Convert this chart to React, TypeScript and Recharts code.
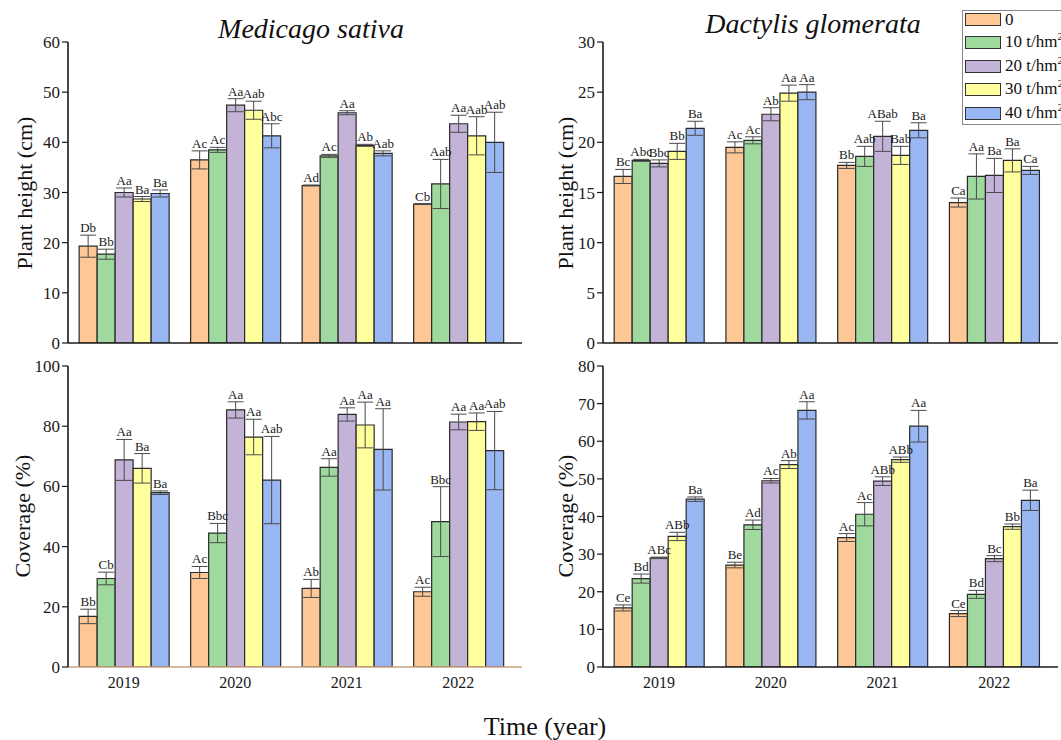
import React from 'react';
import { BarChart, Bar, XAxis, YAxis, ErrorBar, LabelList } from 'recharts';

const FONT = "'Times New Roman', 'Liberation Serif', serif";

const years = ['2019', '2020', '2021', '2022'];
const treatments = ['0', '10 t/hm', '20 t/hm', '30 t/hm', '40 t/hm'];
const colors = ['#FDC895', '#9FD99E', '#C2B3D7', '#FFFF9E', '#99B7F2'];

// Medicago sativa – plant height (cm)
const msHeightVals = [
  [19.3, 17.7, 30.0, 28.7, 29.8],
  [36.5, 38.5, 47.4, 46.4, 41.3],
  [31.4, 37.3, 45.9, 39.4, 37.8],
  [27.7, 31.7, 43.7, 41.3, 40.0],
];
const msHeightErrs = [
  [2.2, 1.0, 0.9, 0.5, 0.7],
  [1.8, 0.5, 1.3, 1.8, 2.4],
  [0.1, 0.3, 0.4, 0.2, 0.5],
  [0.1, 4.9, 1.7, 3.8, 6.0],
];
const msHeightLabels = [
  ['Db', 'Bb', 'Aa', 'Ba', 'Ba'],
  ['Ac', 'Ac', 'Aa', 'Aab', 'Abc'],
  ['Ad', 'Ac', 'Aa', 'Ab', 'Aab'],
  ['Cb', 'Aab', 'Aa', 'Aab', 'Aab'],
];

// Dactylis glomerata – plant height (cm)
const dgHeightVals = [
  [16.6, 18.2, 17.9, 19.1, 21.4],
  [19.5, 20.2, 22.8, 24.9, 25.0],
  [17.7, 18.6, 20.6, 18.7, 21.2],
  [14.0, 16.6, 16.7, 18.2, 17.2],
];
const dgHeightErrs = [
  [0.7, 0.1, 0.35, 0.8, 0.7],
  [0.55, 0.35, 0.65, 0.8, 0.75],
  [0.3, 1.0, 1.5, 0.9, 0.75],
  [0.45, 2.25, 1.7, 1.15, 0.4],
];
const dgHeightLabels = [
  ['Bc', 'Abc', 'Bbc', 'Bb', 'Ba'],
  ['Ac', 'Ac', 'Ab', 'Aa', 'Aa'],
  ['Bb', 'Aab', 'ABab', 'Bab', 'Ba'],
  ['Ca', 'Aa', 'Ba', 'Ba', 'Ca'],
];

// Medicago sativa – coverage (%)
const msCoverVals = [
  [16.8, 29.4, 68.8, 66.0, 57.9],
  [31.4, 44.5, 85.4, 76.4, 62.1],
  [26.1, 66.3, 83.9, 80.4, 72.3],
  [25.0, 48.3, 81.4, 81.5, 71.9],
];
const msCoverErrs = [
  [2.4, 2.1, 6.8, 4.9, 0.6],
  [2.0, 3.2, 2.7, 5.9, 14.5],
  [3.0, 2.9, 2.2, 7.6, 13.5],
  [1.5, 11.6, 2.6, 2.9, 13.0],
];
const msCoverLabels = [
  ['Bb', 'Cb', 'Aa', 'Ba', 'Ba'],
  ['Ac', 'Bbc', 'Aa', 'Aa', 'Aab'],
  ['Ab', 'Aa', 'Aa', 'Aa', 'Aa'],
  ['Ac', 'Bbc', 'Aa', 'Aa', 'Aab'],
];

// Dactylis glomerata – coverage (%)
const dgCoverVals = [
  [15.7, 23.5, 29.0, 34.7, 44.6],
  [27.1, 37.8, 49.5, 53.8, 68.2],
  [34.4, 40.6, 49.4, 55.1, 64.0],
  [14.2, 19.3, 28.8, 37.3, 44.3],
];
const dgCoverErrs = [
  [0.8, 1.2, 0.2, 1.1, 0.6],
  [0.75, 1.25, 0.6, 1.05, 2.3],
  [1.05, 3.1, 1.15, 0.7, 4.2],
  [0.8, 1.05, 0.8, 0.7, 2.7],
];
const dgCoverLabels = [
  ['Ce', 'Bd', 'ABc', 'ABb', 'Ba'],
  ['Be', 'Ad', 'Ac', 'Ab', 'Aa'],
  ['Ac', 'Ac', 'ABb', 'ABb', 'Aa'],
  ['Ce', 'Bd', 'Bc', 'Bb', 'Ba'],
];

const ticks60 = [0, 10, 20, 30, 40, 50, 60];
const ticks30 = [0, 5, 10, 15, 20, 25, 30];
const ticks100 = [0, 20, 40, 60, 80, 100];
const ticks80 = [0, 10, 20, 30, 40, 50, 60, 70, 80];

function buildRows(vals: number[][], errs: number[][], labels: string[][]) {
  return years.map((y, yi) => {
    const row: any = { year: y };
    treatments.forEach((_, ti) => {
      row[`v${ti}`] = vals[yi][ti];
      row[`e${ti}`] = errs[yi][ti];
      row[`l${ti}`] = labels[yi][ti];
    });
    return row;
  });
}

const makeLabel = (rows: any[], i: number) => (props: any) => {
  const vb = props.viewBox && props.viewBox.width !== undefined ? props.viewBox : props;
  const x = Number(vb.x);
  const y = Number(vb.y);
  const w = Number(vb.width);
  const h = Math.abs(Number(vb.height));
  const row = rows[props.index];
  if (!row) return null;
  const v = row[`v${i}`];
  const e = row[`e${i}`];
  const top = y - (e / v) * h;
  return (
    <text x={x + w / 2} y={top - 3} textAnchor="middle" fontSize={13} fill="#1a1a1a" fontFamily={FONT}>
      {row[`l${i}`]}
    </text>
  );
};

const LegendBox = () => (
  <div
    style={{
      position: 'absolute',
      left: 962,
      top: 10,
      width: 130,
      height: 115,
      border: '1px solid #8a8a8a',
      background: '#fff',
      fontFamily: FONT,
      fontSize: 17,
      color: '#111',
      boxSizing: 'border-box',
    }}
  >
    {treatments.map((t, i) => (
      <div
        key={t}
        style={{ position: 'absolute', left: 2, top: 1 + i * 23.4, height: 15, display: 'flex', alignItems: 'center' }}
      >
        <div
          style={{
            width: 34,
            height: 11,
            background: colors[i],
            border: '1.5px solid #333',
            marginRight: 4,
            flex: 'none',
          }}
        />
        <span style={{ whiteSpace: 'nowrap', lineHeight: '15px', position: 'relative' }}>
          {t}
          {i > 0 ? (
            <span style={{ fontSize: 11, position: 'relative', top: -7 }}>2</span>
          ) : null}
        </span>
      </div>
    ))}
  </div>
);

type PanelProps = {
  rows: any[];
  left: number;
  top: number;
  width: number;
  height: number;
  margin: { top: number; right: number; bottom: number; left: number };
  domain: [number, number];
  ticks: number[];
  showX: boolean;
  xColor: string;
};

const Panel = ({ rows, left, top, width, height, margin, domain, ticks, showX, xColor }: PanelProps) => (
  <div style={{ position: 'absolute', left, top, width, height }}>
    <BarChart width={width} height={height} data={rows} margin={margin} barCategoryGap="10%" barGap={0}>
      <XAxis
        dataKey="year"
        axisLine={{ stroke: xColor, strokeWidth: 1.6 }}
        tickLine={false}
        tick={showX ? { fontSize: 16, fill: '#1a1a1a', fontFamily: FONT } : false}
        tickMargin={4}
        height={showX ? 30 : 1}
        padding={{ left: 0, right: 8 }}
        interval={0}
      />
      <YAxis
        width={60}
        domain={domain}
        ticks={ticks}
        interval={0}
        allowDataOverflow
        axisLine={{ stroke: '#1a1a1a', strokeWidth: 1.6 }}
        tickLine={{ stroke: '#1a1a1a', strokeWidth: 1.2 }}
        tickSize={6}
        tick={{ fontSize: 17, fill: '#1a1a1a', fontFamily: FONT }}
      />
      {treatments.map((t, i) => (
        <Bar
          key={t}
          dataKey={`v${i}`}
          name={t}
          fill={colors[i]}
          stroke="#2a2a2a"
          strokeWidth={1.2}
          isAnimationActive={false}
        >
          <ErrorBar dataKey={`e${i}`} width={8} stroke="#4a4a4a" strokeWidth={1} direction="y" />
          <LabelList dataKey={`l${i}`} content={makeLabel(rows, i)} />
        </Bar>
      ))}
    </BarChart>
  </div>
);

export default function App() {
  const r1 = buildRows(msHeightVals, msHeightErrs, msHeightLabels);
  const r2 = buildRows(dgHeightVals, dgHeightErrs, dgHeightLabels);
  const r3 = buildRows(msCoverVals, msCoverErrs, msCoverLabels);
  const r4 = buildRows(dgCoverVals, dgCoverErrs, dgCoverLabels);
  return (
    <div
      style={{
        position: 'absolute',
        left: 0,
        top: 0,
        width: 1061,
        height: 740,
        overflow: 'hidden',
        background: '#fff',
        fontFamily: FONT,
      }}
    >
      <Panel
        rows={r1}
        left={0}
        top={0}
        width={530}
        height={360}
        margin={{ top: 42, right: 8, bottom: 16, left: 8 }}
        domain={[0, 60]}
        ticks={ticks60}
        showX={false}
        xColor="#1a1a1a"
      />
      <Panel
        rows={r2}
        left={530}
        top={0}
        width={531}
        height={360}
        margin={{ top: 42, right: 3, bottom: 16, left: 13 }}
        domain={[0, 30]}
        ticks={ticks30}
        showX={false}
        xColor="#1a1a1a"
      />
      <Panel
        rows={r3}
        left={0}
        top={350}
        width={530}
        height={390}
        margin={{ top: 16, right: 8, bottom: 43, left: 8 }}
        domain={[0, 100]}
        ticks={ticks100}
        showX
        xColor="#C9A27E"
      />
      <Panel
        rows={r4}
        left={530}
        top={350}
        width={531}
        height={390}
        margin={{ top: 16, right: 3, bottom: 43, left: 13 }}
        domain={[0, 80]}
        ticks={ticks80}
        showX
        xColor="#1a1a1a"
      />
      <svg
        width={1061}
        height={740}
        style={{ position: 'absolute', left: 0, top: 0, pointerEvents: 'none' }}
      >
        <text x={311} y={38} textAnchor="middle" fontSize={28} fontStyle="italic" fontFamily={FONT} fill="#111">
          Medicago sativa
        </text>
        <text x={813} y={33} textAnchor="middle" fontSize={28} fontStyle="italic" fontFamily={FONT} fill="#111">
          Dactylis glomerata
        </text>
        <text
          transform="translate(24,193) rotate(-90)"
          textAnchor="middle"
          dominantBaseline="central"
          fontSize={22}
          fontFamily={FONT}
          fill="#111"
        >
          Plant height (cm)
        </text>
        <text
          transform="translate(565,193) rotate(-90)"
          textAnchor="middle"
          dominantBaseline="central"
          fontSize={22}
          fontFamily={FONT}
          fill="#111"
        >
          Plant height (cm)
        </text>
        <text
          transform="translate(22,516) rotate(-90)"
          textAnchor="middle"
          dominantBaseline="central"
          fontSize={22}
          fontFamily={FONT}
          fill="#111"
        >
          Coverage (%)
        </text>
        <text
          transform="translate(565,516) rotate(-90)"
          textAnchor="middle"
          dominantBaseline="central"
          fontSize={22}
          fontFamily={FONT}
          fill="#111"
        >
          Coverage (%)
        </text>
        <text x={545} y={735} textAnchor="middle" fontSize={26} fontFamily={FONT} fill="#111">
          Time (year)
        </text>
      </svg>
      <LegendBox />
    </div>
  );
}
